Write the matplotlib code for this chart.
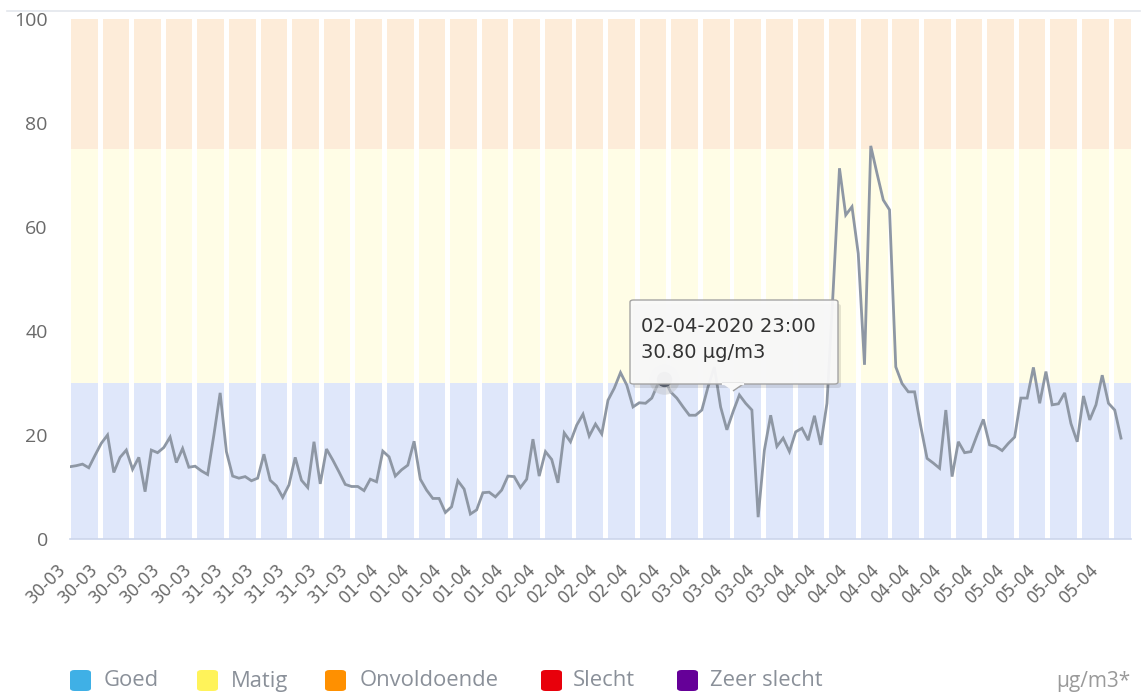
import matplotlib
matplotlib.use("Agg")
import matplotlib.pyplot as plt
from matplotlib.patches import FancyBboxPatch, Polygon
from matplotlib.lines import Line2D

# hourly PM values, starting 30-03-2020 00:00
values = [
    13.9, 14.1, 14.4, 13.7, 16.1, 18.4, 20.0, 12.8, 15.7, 17.1,
    13.4, 15.7, 9.1, 17.1, 16.6, 17.6, 19.6, 14.7, 17.4, 13.8,
    14.0, 13.1, 12.4, 20.0, 28.1, 16.8, 12.1, 11.7, 12.0, 11.2,
    11.7, 16.3, 11.3, 10.2, 8.0, 10.4, 15.7, 11.3, 9.9, 18.7,
    10.6, 17.3, 15.2, 12.9, 10.5, 10.1, 10.1, 9.3, 11.5, 11.0,
    16.9, 15.8, 12.1, 13.3, 14.2, 18.8, 11.5, 9.4, 7.8, 7.8,
    5.1, 6.2, 11.2, 9.6, 4.8, 5.6, 8.9, 9.0, 8.1, 9.4,
    12.1, 12.0, 9.9, 11.5, 19.2, 12.1, 16.8, 15.3, 10.8, 20.4,
    18.7, 21.9, 24.0, 19.8, 22.1, 20.2, 26.7, 29.0, 32.0, 29.6,
    25.4, 26.2, 26.1, 27.1, 29.9, 30.8, 28.3, 27.1, 25.4, 23.8,
    23.8, 24.8, 29.3, 33.1, 25.4, 21.0, 24.5, 27.7, 26.1, 24.8,
    4.2, 17.1, 23.8, 17.8, 19.4, 16.8, 20.6, 21.3, 19.0, 23.7,
    18.1, 26.1, 48.0, 71.3, 62.3, 63.9, 54.9, 33.5, 75.6, 70.3,
    65.2, 63.3, 33.1, 29.9, 28.3, 28.3, 21.6, 15.5, 14.6, 13.6,
    24.8, 12.0, 18.7, 16.6, 16.8, 20.0, 23.0, 18.1, 17.8, 17.0,
    18.4, 19.6, 27.1, 27.1, 33.0, 26.1, 32.2, 25.8, 26.0, 28.1,
    22.2, 18.7, 27.5, 22.9, 25.8, 31.5, 26.1, 24.8, 19.4,
]
hours = list(range(len(values)))

# one label every 5 hours
tick_labels = (["30-03"] * 5 + ["31-03"] * 5 + ["01-04"] * 5 + ["02-04"] * 5
               + ["03-04"] * 4 + ["04-04"] * 5 + ["05-04"] * 5)
tick_hours = [5 * i for i in range(len(tick_labels))]

# quality zones
zone_edges = [0, 30, 75, 100]
zone_colors = ["#dfe7fa", "#fffde6", "#fdecd9"]

legend_names = ["Goed", "Matig", "Onvoldoende", "Slecht", "Zeer slecht"]
legend_colors = ["#3fb0e6", "#fff35a", "#ff9000", "#e8000b", "#650098"]

tooltip_hour = 95
tooltip_lines = ["02-04-2020 23:00", "30.80 µg/m3"]

W, H = 1146, 696
fig = plt.figure(figsize=(W / 100, H / 100), dpi=100)
plt.rcParams['font.family'] = ["Open Sans", "DejaVu Sans"]


def fx(px):
    return px / W


def fy(py):
    return 1 - py / H


ax = fig.add_axes([fx(70), fy(539), fx(1131) - fx(70), fy(19) - fy(539)])

# background columns, split by zone
col_pitch = 5.05
col_width = 4.27
n_cols = len(tick_labels)
lefts = [0.16 + col_pitch * k for k in range(n_cols)]
for lo, hi, c in zip(zone_edges[:-1], zone_edges[1:], zone_colors):
    ax.bar(lefts, [hi - lo] * n_cols, width=col_width, bottom=lo,
           align="edge", color=c, linewidth=0, zorder=0)

ax.plot(hours, values, color="#8e97a4", lw=2.0, zorder=3,
        solid_joinstyle="miter")

ax.set_xlim(0, 169.6)
ax.set_ylim(0, 100)
ax.set_yticks([0, 20, 40, 60, 80, 100])
ax.set_xticks(tick_hours)
ax.set_xticklabels(tick_labels, rotation=45, ha="right", va="top",
                   family="DejaVu Sans")
ax.tick_params(axis="x", length=0, pad=15, labelsize=12, colors="#6a6a6a")
ax.tick_params(axis="y", length=0, pad=16, labelsize=14, colors="#6a6a6a")
for s in ["top", "right", "left"]:
    ax.spines[s].set_visible(False)
ax.spines["bottom"].set_color("#ccd6eb")
ax.spines["bottom"].set_linewidth(1.2)
ax.set_facecolor("none")

# top separator line
fig.add_artist(Line2D([fx(7), fx(1140)], [fy(11), fy(11)],
                      color="#e3e6ec", lw=1.2))

# hovered point
ax.plot(tooltip_hour, values[tooltip_hour], "o", ms=22, color="#c9ccd3",
        alpha=0.6, mec="none", zorder=4)
ax.plot(tooltip_hour, values[tooltip_hour], "o", ms=11, color="#626a7a",
        mec="none", zorder=5)

# tooltip box
shadow = FancyBboxPatch((fx(633), fy(388)), fx(838) - fx(630), fy(300) - fy(384),
                        boxstyle="round,pad=0,rounding_size=0.003",
                        transform=fig.transFigure, fc="#000000", alpha=0.10,
                        ec="none", zorder=8)
fig.add_artist(shadow)
box = FancyBboxPatch((fx(630), fy(384)), fx(838) - fx(630), fy(300) - fy(384),
                     boxstyle="round,pad=0,rounding_size=0.003",
                     transform=fig.transFigure, fc="#f9f9f9", alpha=0.95,
                     ec="#a0a0a0", lw=1.0, zorder=9)
fig.add_artist(box)
tri = Polygon([(fx(722), fy(383.5)), (fx(744), fy(383.5)), (fx(733), fy(391))],
              closed=False, transform=fig.transFigure, fc="#f9f9f9",
              ec="#a0a0a0", lw=1.0, zorder=10)
fig.add_artist(tri)
fig.add_artist(Line2D([fx(723), fx(743)], [fy(384), fy(384)], color="#f9f9f9",
                      lw=1.6, zorder=11))
for i, line in enumerate(tooltip_lines):
    fig.text(fx(641), fy(327 + 25 * i), line, fontsize=14, color="#333333",
             va="center", ha="left", zorder=12, family="DejaVu Sans")

# legend
sq_x = [70, 197, 325, 541, 677]
txt_x = [104, 231, 360, 573, 710]
for name, c, sx, tx in zip(legend_names, legend_colors, sq_x, txt_x):
    fig.add_artist(FancyBboxPatch((fx(sx), fy(691)), fx(21), 21 / H,
                                  boxstyle="round,pad=0,rounding_size=0.004",
                                  transform=fig.transFigure, fc=c, ec="none"))
    fig.text(fx(tx), fy(681), name, fontsize=15.8, color="#8a9099",
             va="center", ha="left")
fig.text(fx(1131), fy(682), "µg/m3*", fontsize=15, color="#9a9a9a",
         va="center", ha="right")

fig.savefig("out.png", dpi=100)
